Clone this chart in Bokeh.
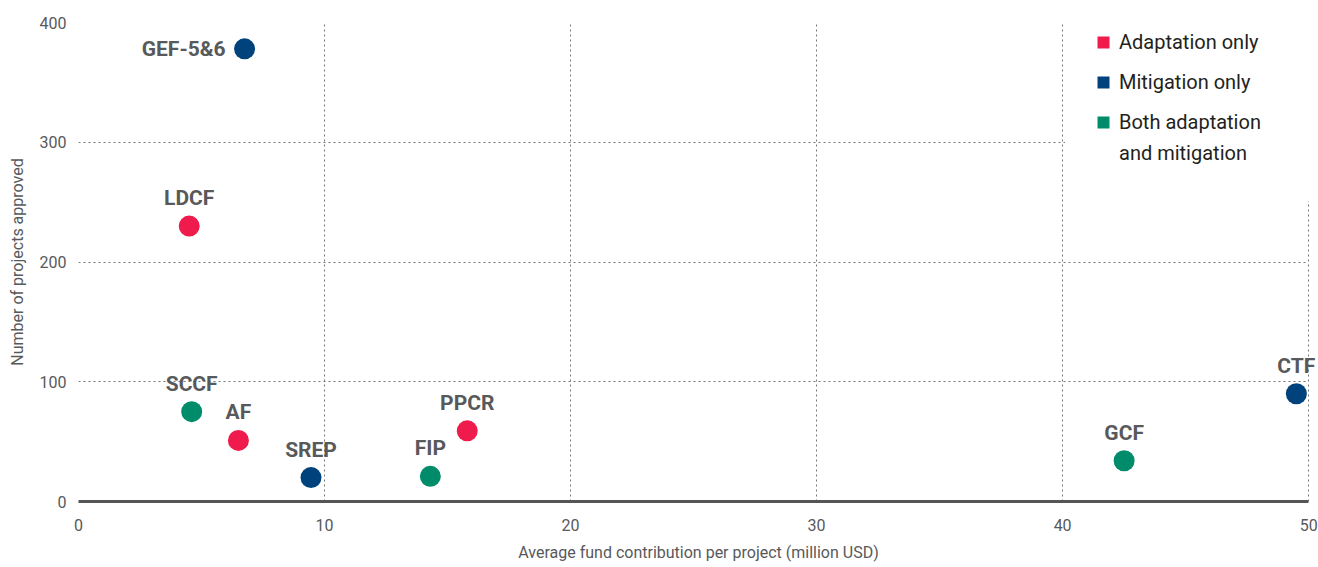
from bokeh.plotting import figure
from bokeh.models import (ColumnDataSource, Legend, LegendItem, CDSView, BooleanFilter, Range1d,
                          FixedTicker, BoxAnnotation, LabelSet)
from bokeh.core.properties import value
from bokeh.embed import file_html
from bokeh.resources import INLINE

# ---- data ----
funds = ["GEF-5&6", "LDCF", "SCCF", "AF", "SREP", "FIP", "PPCR", "GCF", "CTF"]
avg_contribution = [6.75, 4.5, 4.6, 6.5, 9.45, 14.3, 15.8, 42.5, 49.5]
projects_approved = [378, 230, 75, 51, 20, 21, 59, 34, 90]
fund_type = ["Mitigation only", "Adaptation only", "Both adaptation\nand mitigation",
             "Adaptation only", "Mitigation only", "Both adaptation\nand mitigation",
             "Adaptation only", "Both adaptation\nand mitigation", "Mitigation only"]
categories = ["Adaptation only", "Mitigation only", "Both adaptation\nand mitigation"]
colors = ["#EE1B4C", "#00427C", "#008C6B"]
x_ticks = [0, 10, 20, 30, 40, 50]
y_ticks = [0, 100, 200, 300, 400]

FONT = "Roboto"
GRAY = "#58595B"

# x range runs a little past 50 so the CTF label is not clipped; axis/grid stop at 50
p = figure(width=1318, height=567, output_backend="svg", toolbar_location=None,
           x_range=Range1d(0, 50.4), y_range=Range1d(0, 400),
           min_border_left=78, min_border_right=0, min_border_top=22, min_border_bottom=66)
p.outline_line_color = None
p.background_fill_color = "white"

# grid
for g in (p.xgrid, p.ygrid):
    g.grid_line_color = "#777777"
    g.grid_line_dash = "2 3"
    g.grid_line_width = 1
try:
    p.ygrid.cross_bounds = (0, 50)
except Exception:
    pass
p.xaxis.ticker = FixedTicker(ticks=x_ticks)
p.yaxis.ticker = FixedTicker(ticks=y_ticks)

# axes
p.xaxis.bounds = (0, 50)
p.xaxis.axis_line_color = "#555555"
p.xaxis.axis_line_width = 3
p.yaxis.axis_line_color = None
for ax in (p.xaxis, p.yaxis):
    ax.major_tick_line_color = None
    ax.minor_tick_line_color = None
    ax.major_tick_out = 0
    ax.major_tick_in = 0
    ax.minor_tick_out = 0
    ax.minor_tick_in = 0
    ax.major_label_text_font = FONT
    ax.major_label_text_font_size = "16px"
    ax.major_label_text_color = GRAY
    ax.axis_label_text_font = FONT
    ax.axis_label_text_font_size = "16px"
    ax.axis_label_text_font_style = "normal"
    ax.axis_label_text_color = GRAY
p.xaxis.axis_label = "Average fund contribution per project (million USD)"
p.yaxis.axis_label = "Number of projects approved"
p.xaxis.major_label_standoff = 17
p.xaxis.axis_label_standoff = 9
p.yaxis.major_label_standoff = 12
p.yaxis.axis_label_standoff = 10

# white panel behind the legend (covers the grid in that corner)
p.add_layout(BoxAnnotation(left=40.1, right=52, bottom=251, top=430,
                           fill_color="white", fill_alpha=1.0, line_color=None, level="underlay"))

src = ColumnDataSource(dict(x=avg_contribution, y=projects_approved, name=funds, cat=fund_type))

# points by category; square swatch renderers (hidden under circles) feed the legend
swatches = []
for cat, col in zip(categories, colors):
    view = CDSView(filter=BooleanFilter([c == cat for c in fund_type]))
    sq = p.scatter("x", "y", source=src, view=view, size=8, marker="square",
                   fill_color=col, line_color=None)
    p.scatter("x", "y", source=src, view=view, size=21, marker="circle",
              fill_color=col, line_color=None)
    swatches.append(sq)
blank = p.scatter("x", "y", source=src, view=CDSView(filter=BooleanFilter([False] * len(funds))),
                  size=1, marker="square", fill_alpha=0, line_alpha=0)

# labels
is_left = [n == "GEF-5&6" for n in funds]
label_src_top = ColumnDataSource(dict(
    x=[x for x, l in zip(avg_contribution, is_left) if not l],
    y=[y for y, l in zip(projects_approved, is_left) if not l],
    name=[n for n, l in zip(funds, is_left) if not l]))
label_src_left = ColumnDataSource(dict(
    x=[x for x, l in zip(avg_contribution, is_left) if l],
    y=[y for y, l in zip(projects_approved, is_left) if l],
    name=[n for n, l in zip(funds, is_left) if l]))
p.add_layout(LabelSet(x="x", y="y", text="name", source=label_src_top,
                      text_font=value(FONT), text_font_style="bold", text_font_size="21px",
                      text_color=GRAY, text_align="center", text_baseline="middle", y_offset=28))
p.add_layout(LabelSet(x="x", y="y", text="name", source=label_src_left,
                      text_font=value(FONT), text_font_style="bold", text_font_size="21px",
                      text_color=GRAY, text_align="right", text_baseline="middle", x_offset=-19))

# legend: third label wraps onto a second line with its own (blank) entry
first_lines = [c.split("\n")[0] for c in categories]
second_line = categories[2].split("\n")[1]
leg_kw = dict(padding=0, spacing=10, glyph_width=30, glyph_height=30, label_standoff=1,
              label_text_font=FONT, label_text_font_size="20px", label_text_color="#231F20",
              background_fill_alpha=0.0, border_line_color=None, margin=0)
legend_a = Legend(items=[LegendItem(label=t, renderers=[r]) for t, r in zip(first_lines, swatches)],
                  location=(1010, 364), **leg_kw)
legend_b = Legend(items=[LegendItem(label=second_line, renderers=[blank])],
                  location=(1010, 333), **leg_kw)
p.add_layout(legend_a)
p.add_layout(legend_b)

open("out.html", "w").write(file_html(p, INLINE))
